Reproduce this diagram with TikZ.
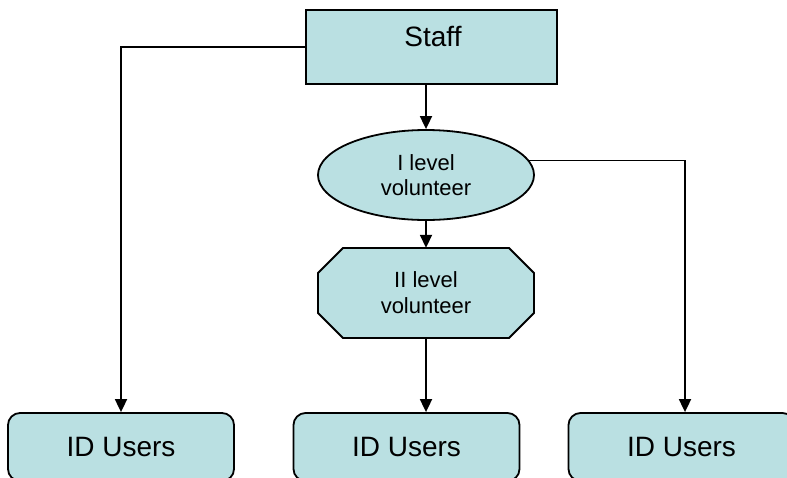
\documentclass[tikz,border=0pt]{standalone}
\usepackage{fontspec}
\setmainfont{Liberation Sans}
\usetikzlibrary{shapes.geometric,arrows.meta}
\definecolor{boxfill}{RGB}{186,224,226}
\tikzset{
  shapebase/.style={draw=black, line width=1.8pt, fill=boxfill, inner sep=0pt},
  rectbox/.style={shapebase, rectangle, minimum width=251pt, minimum height=74pt},
  userbox/.style={shapebase, rectangle, rounded corners=12pt, minimum width=226pt, minimum height=68pt, font=\fontsize{28}{30}\selectfont},
  ellbox/.style={shapebase, ellipse, minimum width=216pt, minimum height=90pt, align=center, font=\fontsize{22}{25}\selectfont},
  octframe/.style={draw=black, line width=1.8pt, fill=boxfill},
  octbox/.style={rectangle, inner sep=0pt, minimum width=216pt, minimum height=90pt, align=center, font=\fontsize{22}{26}\selectfont},
  conn/.style={line width=1.8pt, -{Triangle[length=13pt,width=12pt]}},
}
\begin{document}
\begin{tikzpicture}[x=1pt,y=-1pt]
\useasboundingbox (0,0) rectangle (787,477);
\clip (0,0) rectangle (787,477);
\node[rectbox] (staff) at (431.5,47) {};
\node[font=\fontsize{28}{30}\selectfont, inner sep=0pt] (stafftext) at (433,37) {Staff};
\node[ellbox] (lvl1) at (426,175) {I level\\volunteer};
\draw[octframe] (343,248) -- (509,248) -- (534,273) -- (534,313) -- (509,338)
  -- (343,338) -- (318,313) -- (318,273) -- cycle;
\node[octbox] (lvl2) at (426,293) {II level\\volunteer};
\node[userbox] (u1) at (121,447) {ID Users};
\node[userbox] (u2) at (406.5,447) {ID Users};
\node[userbox] (u3) at (681.5,447) {ID Users};
\coordinate (e1) at (121,47);
\coordinate (e3) at (685,160);
\draw[conn] (staff.west) -- (e1) -- (u1.north -| e1);
\draw[conn] (staff.south -| lvl1.north) -- (lvl1.north);
\draw[conn] (lvl1.south) -- (lvl2.north);
\draw[conn] (lvl2.south) -- (lvl2.south |- u2.north);
\draw[conn] (lvl1.8) -- (lvl1.8 -| e3) -- (e3 |- u3.north);
\end{tikzpicture}
\end{document}
